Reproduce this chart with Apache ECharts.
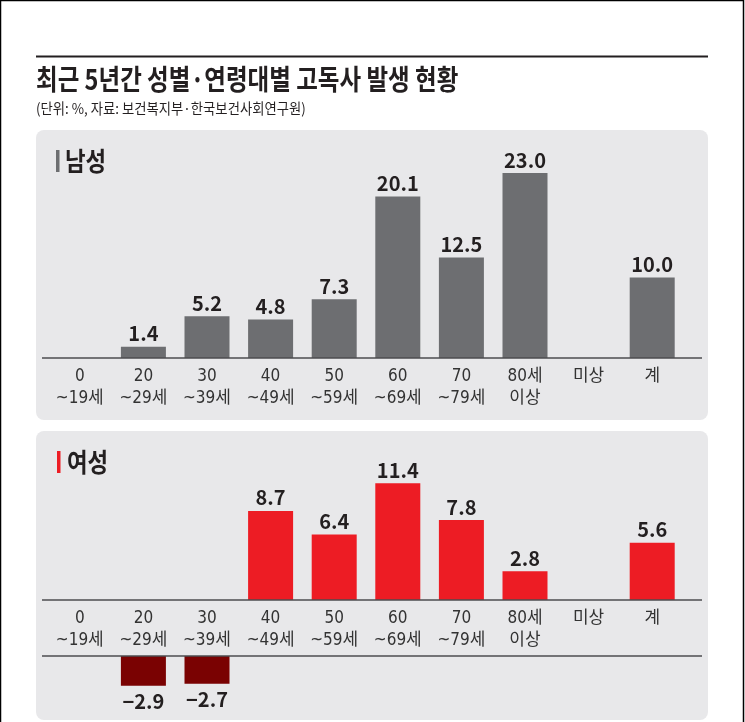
<!DOCTYPE html>
<html>
<head>
<meta charset="utf-8">
<script src="https://cdn.jsdelivr.net/npm/echarts@6/dist/echarts.min.js"></script>
<style>
  html, body { margin: 0; padding: 0; background: #fff; }
  #main { width: 745px; height: 722px; }
</style>
</head>
<body>
<div id="main"></div>
<script>
// 연령대 구분
var categories = ['0\n~19세', '20\n~29세', '30\n~39세', '40\n~49세', '50\n~59세',
                  '60\n~69세', '70\n~79세', '80세\n이상', '미상', '계'];
// 남성 (%)
var menValues = ['-', 1.4, 5.2, 4.8, 7.3, 20.1, 12.5, 23.0, '-', 10.0];
// 여성 (%)
var womenValues = ['-', -2.9, -2.7, 8.7, 6.4, 11.4, 7.8, 2.8, '-', 5.6];

var womenPos = womenValues.map(function (v) { return (v !== '-' && v > 0) ? v : '-'; });
var womenNeg = womenValues.map(function (v) { return (v !== '-' && v < 0) ? v : '-'; });

var GRAY = '#6d6e71', RED = '#ed1c24', DARKRED = '#7a0202';
var PANEL = '#e8e8ea', INK = '#231f20';
var NARROW = "'Liberation Sans Narrow', 'DejaVu Sans Condensed', 'Noto Sans CJK KR', sans-serif";
var KR = "'Noto Sans CJK KR', sans-serif";

var myChart = echarts.init(document.getElementById('main'));

function xAxisFor(idx, showLabels) {
    return {
        type: 'category',
        gridIndex: idx,
        data: categories,
        axisLine: { show: false },
        axisTick: { show: false },
        axisLabel: {
            show: showLabels,
            interval: 0,
            margin: 8,
            color: '#333',
            fontSize: 17,
            lineHeight: 22,
            fontFamily: NARROW
        }
    };
}

function valueLabel(pos, dist) {
    return {
        show: true,
        position: pos,
        distance: dist,
        color: INK,
        fontSize: 20,
        fontWeight: 'bold',
        fontFamily: KR,
        formatter: function (p) {
            var v = p.value;
            return v < 0 ? '\u2212' + Math.abs(v).toFixed(1) : v.toFixed(1);
        }
    };
}

myChart.setOption({
    animation: false,
    backgroundColor: '#fff',
    graphic: [
        // 테두리
        { type: 'rect', silent: true, z: -10, shape: { x: 0.5, y: 0.5, width: 743, height: 740 },
          style: { fill: null, stroke: '#000', lineWidth: 1.5 } },
        { type: 'line', silent: true, shape: { x1: 36, y1: 56.5, x2: 708, y2: 56.5 },
          style: { stroke: INK, lineWidth: 2 } },
        { type: 'text', silent: true, x: 36, y: 79, scaleX: 0.84,
          style: { text: '최근 5년간 성별·연령대별 고독사 발생 현황', fill: INK,
                   font: 'bold 28px ' + KR, textVerticalAlign: 'middle' } },
        { type: 'text', silent: true, x: 36, y: 108, scaleX: 0.92,
          style: { text: '(단위: %, 자료: 보건복지부·한국보건사회연구원)', fill: INK,
                   font: '14.5px ' + KR, textVerticalAlign: 'middle' } },
        // 패널
        { type: 'rect', silent: true, z: -5, shape: { x: 36, y: 130, width: 672, height: 290, r: 8 },
          style: { fill: PANEL } },
        { type: 'rect', silent: true, z: -5, shape: { x: 36, y: 431, width: 672, height: 289, r: 8 },
          style: { fill: PANEL } },
        { type: 'rect', silent: true, shape: { x: 56, y: 150, width: 3.5, height: 22 },
          style: { fill: GRAY } },
        { type: 'text', silent: true, x: 65, y: 161, scaleX: 0.86,
          style: { text: '남성', fill: INK, font: 'bold 26px ' + KR, textVerticalAlign: 'middle' } },
        { type: 'rect', silent: true, shape: { x: 57, y: 451, width: 3.5, height: 22 },
          style: { fill: RED } },
        { type: 'text', silent: true, x: 67, y: 462, scaleX: 0.86,
          style: { text: '여성', fill: INK, font: 'bold 26px ' + KR, textVerticalAlign: 'middle' } },
        // 기준선
        { type: 'line', silent: true, z: 10, shape: { x1: 42, y1: 358, x2: 702, y2: 358 },
          style: { stroke: '#4d4d4f', lineWidth: 1.5 } },
        { type: 'line', silent: true, z: 10, shape: { x1: 42, y1: 600, x2: 702, y2: 600 },
          style: { stroke: '#4d4d4f', lineWidth: 1.5 } },
        { type: 'line', silent: true, z: 10, shape: { x1: 42, y1: 656, x2: 702, y2: 656 },
          style: { stroke: '#4d4d4f', lineWidth: 1.5 } }
    ],
    grid: [
        { left: 48, width: 636, top: 157, height: 201 },
        { left: 48, width: 636, top: 477.1, height: 122.9 },
        { left: 48, width: 636, top: 656, height: 30.7 }
    ],
    xAxis: [xAxisFor(0, true), xAxisFor(1, true), xAxisFor(2, false)],
    yAxis: [
        { type: 'value', gridIndex: 0, min: 0, max: 25, show: false },
        { type: 'value', gridIndex: 1, min: 0, max: 12, show: false },
        { type: 'value', gridIndex: 2, min: -3, max: 0, show: false }
    ],
    series: [
        { name: '남성', type: 'bar', xAxisIndex: 0, yAxisIndex: 0, data: menValues,
          barWidth: 45, itemStyle: { color: GRAY }, label: valueLabel('top', 3) },
        { name: '여성', type: 'bar', xAxisIndex: 1, yAxisIndex: 1, data: womenPos,
          barWidth: 45, itemStyle: { color: RED }, label: valueLabel('top', 3) },
        { name: '여성(감소)', type: 'bar', xAxisIndex: 2, yAxisIndex: 2, data: womenNeg,
          barWidth: 45, itemStyle: { color: DARKRED }, label: valueLabel('bottom', 6) }
    ]
});
</script>
</body>
</html>
